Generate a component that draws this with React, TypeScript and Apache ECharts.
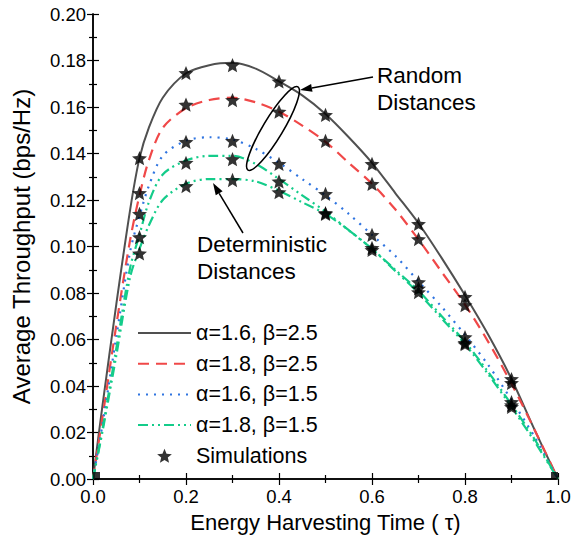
import React, { useEffect, useRef } from "react";
import * as echarts from "echarts";

// ---- data ----
const tau = [0, 0.02, 0.05, 0.08, 0.1, 0.12, 0.15, 0.2, 0.25, 0.3, 0.35, 0.4, 0.45, 0.5, 0.55, 0.6, 0.65, 0.7, 0.75, 0.8, 0.85, 0.9, 0.95, 1.0];
const a16b25 = [0, 0.031, 0.075, 0.116, 0.138, 0.151, 0.164, 0.1745, 0.178, 0.179, 0.1765, 0.171, 0.165, 0.157, 0.147, 0.136, 0.123, 0.11, 0.095, 0.079, 0.062, 0.043, 0.021, 0];
const a18b25 = [0, 0.026, 0.066, 0.103, 0.122, 0.137, 0.151, 0.1595, 0.163, 0.164, 0.162, 0.158, 0.152, 0.145, 0.136, 0.127, 0.116, 0.103, 0.089, 0.075, 0.059, 0.041, 0.021, 0];
const a16b15 = [0, 0.023, 0.061, 0.098, 0.113, 0.126, 0.139, 0.1455, 0.147, 0.146, 0.142, 0.136, 0.129, 0.122, 0.114, 0.105, 0.096, 0.085, 0.074, 0.062, 0.049, 0.034, 0.018, 0];
const a18b15 = [0, 0.021, 0.056, 0.091, 0.105, 0.119, 0.131, 0.137, 0.139, 0.139, 0.1355, 0.129, 0.122, 0.115, 0.107, 0.099, 0.09, 0.081, 0.07, 0.059, 0.046, 0.032, 0.017, 0];
const deterministic = [0, 0.02, 0.053, 0.087, 0.099, 0.109, 0.12, 0.127, 0.129, 0.129, 0.128, 0.124, 0.119, 0.114, 0.107, 0.099, 0.0895, 0.08, 0.069, 0.058, 0.045, 0.031, 0.016, 0];

const simTau = [0.1, 0.2, 0.3, 0.4, 0.5, 0.6, 0.7, 0.8, 0.9];
const simValues = [
  [0.138, 0.123, 0.114, 0.104, 0.097],
  [0.1746, 0.161, 0.145, 0.136, 0.126],
  [0.178, 0.163, 0.1454, 0.1376, 0.1286],
  [0.171, 0.158, 0.1355, 0.128, 0.1234],
  [0.1566, 0.1454, 0.1226, 0.1144, 0.114],
  [0.1355, 0.1269, 0.105, 0.0994, 0.0985],
  [0.1097, 0.1032, 0.0847, 0.082, 0.0804],
  [0.0783, 0.0748, 0.061, 0.0585, 0.058],
  [0.043, 0.0413, 0.0331, 0.0318, 0.031],
];
// simulation points at the two ends (drawn clipped at the corners)
const simEdgeTau = [0, 1];
const simEdgeValues = [0, 0];

const xTicks = [0, 0.2, 0.4, 0.6, 0.8, 1.0];
const names = ["α=1.6, β=2.5", "α=1.8, β=2.5", "α=1.6, β=1.5", "α=1.8, β=1.5"];

const FONT = "'Liberation Sans', Arial, Helvetica, sans-serif";
const STAR =
  "path://M0,-10 L2.645,-3.64 L9.511,-3.09 L4.28,1.39 L5.878,8.09 L0,4.5 L-5.878,8.09 L-4.28,1.39 L-9.511,-3.09 L-2.645,-3.64 Z";

function pairs(xs: number[], ys: number[]) {
  return xs.map((x, i) => [x, ys[i]]);
}

function arrow(x1: number, y1: number, x2: number, y2: number) {
  const dx = x2 - x1, dy = y2 - y1;
  const len = Math.sqrt(dx * dx + dy * dy);
  const ux = dx / len, uy = dy / len;
  const hl = 12, hw = 4;
  const bx = x2 - ux * hl, by = y2 - uy * hl;
  const nx = -uy, ny = ux;
  return [
    { type: "line", shape: { x1, y1, x2: bx, y2: by }, style: { stroke: "#000", lineWidth: 1.5 } },
    {
      type: "polygon",
      shape: { points: [[x2, y2], [bx + nx * hw, by + ny * hw], [bx - nx * hw, by - ny * hw]] },
      style: { fill: "#000" },
    },
  ];
}

export default function App() {
  const ref = useRef<HTMLDivElement>(null);
  useEffect(() => {
    document.body.style.margin = "0";
    const chart = echarts.init(ref.current!, null, { renderer: "svg" });
    const axisCommon = {
      min: 0,
      axisLine: { lineStyle: { color: "#000", width: 1.5 } },
      axisTick: { inside: true, length: 6, lineStyle: { color: "#000", width: 1.2 } },
      minorTick: { show: true, splitNumber: 2, length: 4, lineStyle: { color: "#000", width: 1.2 } },
      splitLine: { show: false },
    };
    const lineColors = ["#505050", "#f04848", "#2f74e0", "#14cc8a"];
    const lineTypes: any[] = ["solid", [11, 7], [2, 6], [10, 4, 2, 4, 2, 4]];
    const lineData = [a16b25, a18b25, a16b15, a18b15];
    const series: any[] = lineData.map((d, i) => ({
      name: names[i],
      type: "line",
      data: pairs(tau, d),
      smooth: 0.3,
      symbol: "none",
      lineStyle: { color: lineColors[i], width: i === 0 ? 2 : 2.2, type: lineTypes[i] },
      itemStyle: { color: lineColors[i] },
      z: 2,
    }));
    series.push({
      name: "Deterministic",
      type: "line",
      data: pairs(tau, deterministic),
      smooth: 0.3,
      symbol: "none",
      lineStyle: { color: lineColors[3], width: 2.2, type: lineTypes[3] },
      itemStyle: { color: lineColors[3] },
      z: 2,
    });
    const simData: number[][] = [];
    simTau.forEach((t, i) => simValues[i].forEach((v) => simData.push([t, v])));
    series.push({
      name: "Simulations",
      type: "scatter",
      data: simData,
      symbol: STAR,
      symbolSize: 15,
      symbolKeepAspect: true,
      itemStyle: { color: "#000" },
      z: 5,
    });
    series.push({
      name: "SimulationsEdge",
      type: "scatter",
      data: simEdgeTau.map((t, i) => ({
        value: [t, simEdgeValues[i]],
        symbolOffset: [i === 0 ? 3.5 : -3.5, -3.5],
      })),
      symbol: "rect",
      symbolSize: 7,
      itemStyle: { color: "#000" },
      z: 5,
    });

    chart.setOption({
      animation: false,
      backgroundColor: "#fff",
      textStyle: { fontFamily: FONT },
      grid: { left: 93, right: 25, top: 14, bottom: 60 },
      legend: {
        data: [
          ...names.map((n) => ({ name: n, itemStyle: { opacity: 0 } })),
          { name: "Simulations", icon: STAR },
        ],
        orient: "vertical",
        left: 137,
        top: 321,
        padding: 0,
        itemWidth: 53,
        itemHeight: 14,
        itemGap: 6.7,
        textStyle: { fontSize: 21.5, fontFamily: FONT, color: "#000", lineHeight: 24 },
        selectedMode: false,
      },
      xAxis: [
        {
          ...axisCommon,
          type: "value",
          max: 1,
          interval: 0.2,
          position: "bottom",
          name: "Energy Harvesting Time ( τ)",
          nameLocation: "middle",
          nameGap: 32,
          nameTextStyle: { fontSize: 22, color: "#000", fontFamily: FONT },
          axisLabel: {
            color: "#000",
            fontSize: 18.5,
            margin: 8,
            fontFamily: FONT,
            formatter: (v: number) => (xTicks.some((t) => Math.abs(t - v) < 1e-9) ? v.toFixed(1) : ""),
          },
        },
        {
          ...axisCommon,
          type: "value",
          max: 1,
          interval: 0.2,
          position: "top",
          axisLabel: { show: false },
        },
      ],
      yAxis: [
        {
          ...axisCommon,
          type: "value",
          max: 0.2,
          interval: 0.02,
          position: "left",
          name: "Average Throughput (bps/Hz)",
          nameLocation: "middle",
          nameGap: 60,
          nameTextStyle: { fontSize: 24, color: "#000", fontFamily: FONT },
          axisLabel: {
            color: "#000",
            fontSize: 18.5,
            margin: 7,
            fontFamily: FONT,
            formatter: (v: number) => v.toFixed(2),
          },
        },
        {
          ...axisCommon,
          type: "value",
          max: 0.2,
          interval: 0.02,
          position: "right",
          axisLabel: { show: false },
        },
      ],
      series,
      graphic: [
        {
          type: "ellipse",
          x: 273,
          y: 128.5,
          rotation: (59 * Math.PI) / 180,
          shape: { cx: 0, cy: 0, rx: 48.5, ry: 10 },
          style: { fill: "none", stroke: "#000", lineWidth: 1.6 },
          z: 10,
        },
        ...arrow(373, 77, 300, 90),
        ...arrow(243, 233, 213, 183),
        {
          type: "text",
          x: 377,
          y: 75,
          style: { text: "Random", font: `22.5px ${FONT}`, fill: "#000", textAlign: "left", textVerticalAlign: "middle" },
        },
        {
          type: "text",
          x: 377,
          y: 102,
          style: { text: "Distances", font: `22.5px ${FONT}`, fill: "#000", textAlign: "left", textVerticalAlign: "middle" },
        },
        {
          type: "text",
          x: 197,
          y: 244,
          style: { text: "Deterministic", font: `22.5px ${FONT}`, fill: "#000", textAlign: "left", textVerticalAlign: "middle" },
        },
        {
          type: "text",
          x: 197,
          y: 271,
          style: { text: "Distances", font: `22.5px ${FONT}`, fill: "#000", textAlign: "left", textVerticalAlign: "middle" },
        },
      ],
    });
    return () => chart.dispose();
  }, []);
  return <div ref={ref} style={{ position: "fixed", left: 0, top: 0, width: 583, height: 539 }} />;
}
